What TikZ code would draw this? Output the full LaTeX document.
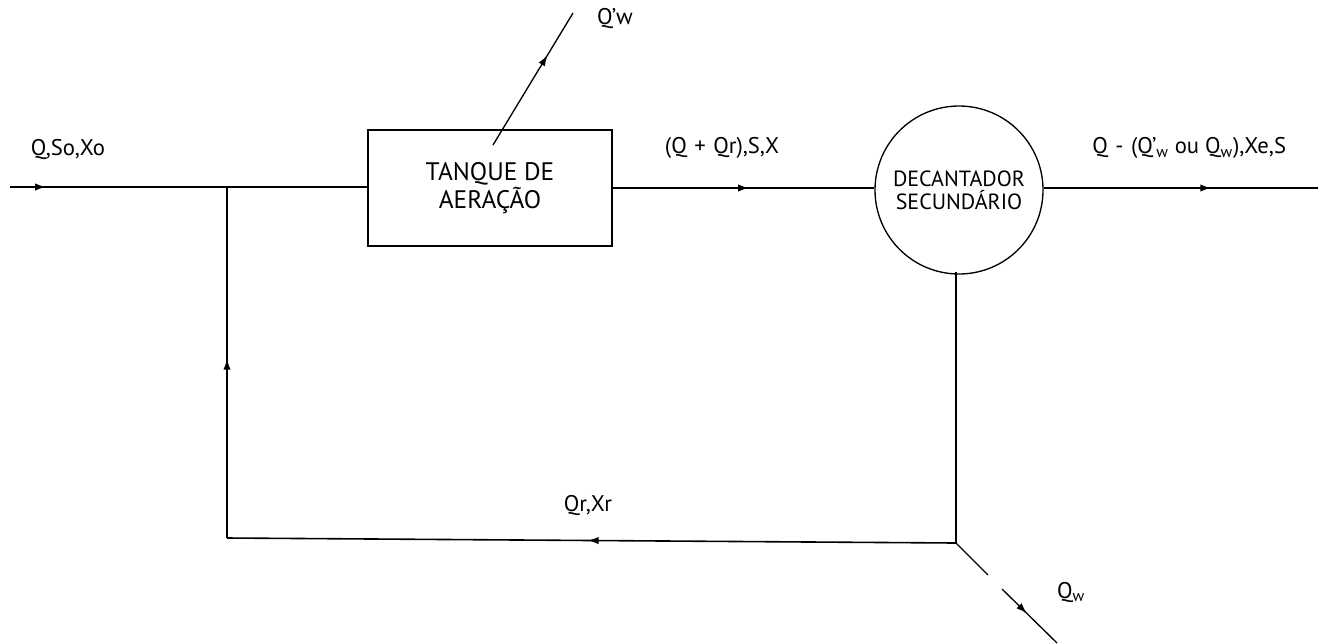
\documentclass[tikz,border=0pt]{standalone}
\usepackage{fontspec}
\setmainfont{PT Sans}
\usetikzlibrary{arrows.meta,decorations.markings}
\tikzset{
  flow/.style={line width=1.2pt},
  flowmark/.style={postaction={decorate,decoration={markings,
      mark=at position #1 with {\arrow{Latex[length=8pt,width=5.5pt]}}}}},
  lbl/.style={inner sep=0pt,font=\fontsize{17}{19}\selectfont},
  tankbox/.style={draw,line width=1.2pt,minimum width=183pt,minimum height=87pt,inner sep=0pt,align=center,font=\fontsize{19}{17}\selectfont},
  decbox/.style={draw,circle,line width=1pt,minimum size=126pt,inner sep=0pt,align=center,font=\fontsize{16.5}{17}\selectfont}
}
\begin{document}
\begin{tikzpicture}[x=0.75pt,y=-0.75pt]
\useasboundingbox (0,0) rectangle (1337,643);
% nodes
\node[tankbox] (tank) at (490,188) {TANQUE DE\\AERAÇÃO};
\node[decbox] (dec) at (959,190) {DECANTADOR\\SECUNDÁRIO};
% coordinates
\coordinate (in) at (10,187);
\coordinate (junc) at (227,187);
\coordinate (bl) at (227,538);
\coordinate (br) at (956,543);
\coordinate (decbot) at (956,272);
\coordinate (out) at (1318,188);
\coordinate (qwa) at (493,145);
\coordinate (qwb) at (573,13);
\coordinate (wa) at (988,575);
\coordinate (wb) at (1002,589);
\coordinate (wc) at (1057,643);
% connectors
\draw[flow,flowmark=0.165] (in) -- (junc);
\draw[flow] (junc) -- (tank.west |- junc);
\draw[flow,flowmark=0.52] (tank.east |- 0,188) -- (dec.west |- 0,188);
\draw[flow,flowmark=0.61] (dec.east |- 0,188) -- (out);
\draw[line width=1pt,flowmark=0.68] (qwa) -- (qwb);
\draw[flow] (decbot) -- (br);
\draw[flow,flowmark=0.505] (br) -- (bl);
\draw[flow,flowmark=0.51] (bl) -- (junc);
\draw[line width=1pt] (br) -- (wa);
\draw[line width=1pt,flowmark=0.45] (wb) -- (wc);
% labels
\node[lbl] (l1) at (68,149) {Q,So,Xo};
\node[lbl] (l2) at (615,19) {Q'w};
\node[lbl] (l3) at (722,148) {(Q\,\,+\,\,Qr),S,X};
\node[lbl,anchor=west] (l4) at (1092,148) {Q\,\,-\,\,(Q'$_{\mathrm{w}}$ ou Q$_{\mathrm{w}}$),Xe,S};
\node[lbl] (l5) at (588,505) {Qr,Xr};
\node[lbl] (l6) at (1071,592) {Q$_{\mathrm{w}}$};
\end{tikzpicture}
\end{document}
